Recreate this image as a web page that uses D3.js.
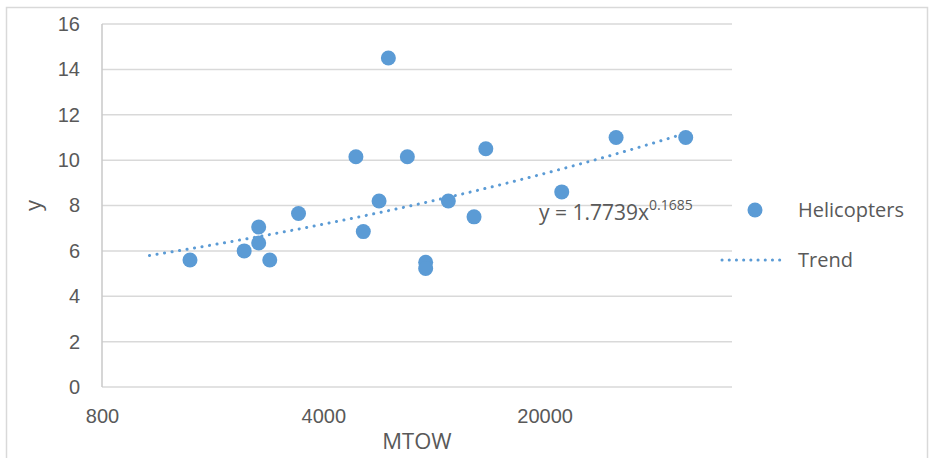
<!DOCTYPE html>
<html>
<head>
<meta charset="utf-8">
<script src="https://cdn.jsdelivr.net/npm/d3@7"></script>
<style>
  body { margin: 0; background: #fff; }
  svg { display: block; font-family: "Open Sans", "Liberation Sans", sans-serif; }
</style>
</head>
<body>
<svg id="chart"></svg>
<script>
// dados (MTOW x y)
const mtow = [1517, 2250, 2500, 2500, 2710, 3340, 5070, 5350, 6000, 6420, 7370, 8420, 8420, 9930, 11970, 13040, 22650, 33630, 55800];
const yvals = [5.6, 6.0, 7.05, 6.35, 5.6, 7.65, 10.15, 6.85, 8.2, 14.5, 10.15, 5.5, 5.22, 8.2, 7.5, 10.5, 8.6, 11.0, 11.0];

const xTicks = [800, 4000, 20000];
const yTicks = [0, 2, 4, 6, 8, 10, 12, 14, 16];

// linha de tendencia (equacao do grafico)
const trendA = 1.7739;
const trendB = 0.1685;
const trendRange = [1130, 55800];

const seriesName = "Helicopters";
const trendName = "Trend";

const W = 929, H = 458;
const margin = { top: 24, bottom: 71, left: 102, right: 197 };

const svg = d3.select('#chart').attr('width', W).attr('height', H);

const blue = '#5b9bd5';
const txt = '#595959';
const grid = '#d9d9d9';

// borda externa
svg.append('rect')
  .attr('x', 6.5).attr('y', 7.5)
  .attr('width', W - 8).attr('height', H)
  .attr('fill', 'none')
  .attr('stroke', '#d9d9d9')
  .attr('stroke-width', 1.5);

// escalas
const x = d3.scaleLog()
  .domain([800, 78125])
  .range([margin.left, W - margin.right]);

const y = d3.scaleLinear()
  .domain([0, 16])
  .range([H - margin.bottom, margin.top]);

// grade
svg.append('g')
  .selectAll('line')
  .data(yTicks)
  .join('line')
  .attr('x1', margin.left).attr('x2', W - margin.right)
  .attr('y1', d => y(d)).attr('y2', d => y(d))
  .attr('stroke', grid)
  .attr('stroke-width', 1.5);

// eixo vertical (linha)
svg.append('line')
  .attr('x1', margin.left).attr('x2', margin.left)
  .attr('y1', y(16)).attr('y2', y(0))
  .attr('stroke', '#c8c8c8')
  .attr('stroke-width', 1.5);

// eixo y
const yAxis = svg.append('g')
  .attr('transform', `translate(${margin.left - 22},0)`)
  .call(d3.axisLeft(y).tickValues(yTicks).tickSize(0).tickPadding(0));
yAxis.select('.domain').remove();
yAxis.selectAll('text')
  .attr('fill', txt)
  .style('font-size', '20px')
  .attr('text-anchor', 'end');

// eixo x
const xAxis = svg.append('g')
  .attr('transform', `translate(0,${y(0) + 22})`)
  .call(d3.axisBottom(x).tickValues(xTicks).tickFormat(d3.format('d')).tickSize(0).tickPadding(0));
xAxis.select('.domain').remove();
xAxis.selectAll('text')
  .attr('fill', txt)
  .style('font-size', '20px');

// titulos
svg.append('text')
  .attr('transform', `translate(33,${y(8)}) rotate(-90)`)
  .attr('text-anchor', 'middle')
  .attr('dy', '0.35em')
  .attr('fill', txt)
  .style('font-size', '22px')
  .text('y');

svg.append('text')
  .attr('x', 417).attr('y', 449)
  .attr('text-anchor', 'middle')
  .attr('fill', txt)
  .style('font-size', '22px')
  .text('MTOW');

// tendencia
const trendPts = d3.range(0, 101).map(i => {
  const lx = Math.log(trendRange[0]) + (Math.log(trendRange[1]) - Math.log(trendRange[0])) * i / 100;
  const xv = Math.exp(lx);
  return [xv, trendA * Math.pow(xv, trendB)];
});

svg.append('path')
  .datum(trendPts)
  .attr('d', d3.line().x(d => x(d[0])).y(d => y(d[1])))
  .attr('fill', 'none')
  .attr('stroke', blue)
  .attr('stroke-width', 3)
  .attr('stroke-linecap', 'round')
  .attr('stroke-dasharray', '0.1 7.5');

// pontos
svg.append('g')
  .selectAll('circle')
  .data(mtow.map((m, i) => ({ m: m, v: yvals[i] })))
  .join('circle')
  .attr('cx', d => x(d.m))
  .attr('cy', d => y(d.v))
  .attr('r', 7.5)
  .attr('fill', blue);

// equacao
const eq = svg.append('text')
  .attr('x', 539).attr('y', 220)
  .attr('fill', txt)
  .style('font-size', '21px');
eq.append('tspan').text(`y = ${trendA}x`);
eq.append('tspan')
  .attr('dy', -10)
  .style('font-size', '14px')
  .text(trendB);

// legenda
const lg = svg.append('g');
lg.append('circle')
  .attr('cx', 755).attr('cy', 210)
  .attr('r', 7.5)
  .attr('fill', blue);
lg.append('text')
  .attr('x', 798).attr('y', 210)
  .attr('dy', '0.35em')
  .attr('fill', txt)
  .style('font-size', '20px')
  .text(seriesName);
lg.append('line')
  .attr('x1', 722).attr('x2', 786)
  .attr('y1', 260).attr('y2', 260)
  .attr('stroke', blue)
  .attr('stroke-width', 3)
  .attr('stroke-linecap', 'round')
  .attr('stroke-dasharray', '0.1 7.1');
lg.append('text')
  .attr('x', 798).attr('y', 260)
  .attr('dy', '0.35em')
  .attr('fill', txt)
  .style('font-size', '20px')
  .text(trendName);
</script>
</body>
</html>
